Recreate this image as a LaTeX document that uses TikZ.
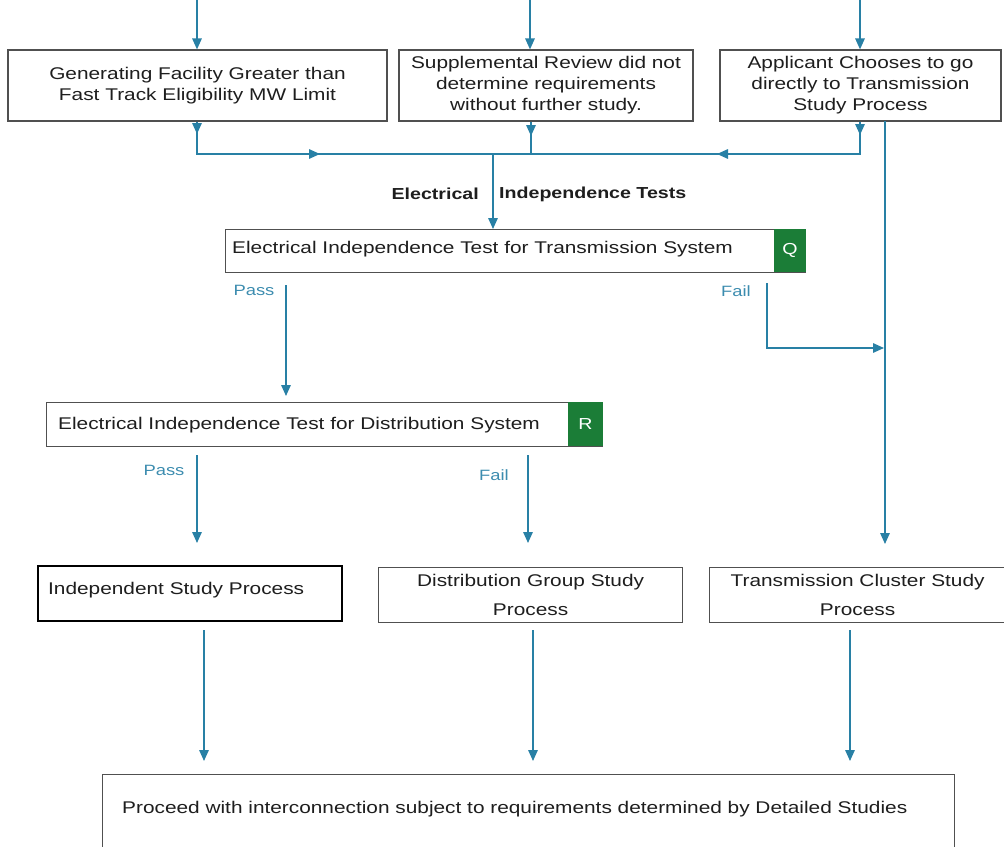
\documentclass[tikz,border=0pt]{standalone}
\usepackage{fontspec}
\setmainfont[FakeStretch=1.23]{Liberation Sans}
\usetikzlibrary{arrows.meta}
\definecolor{flow}{RGB}{40,128,165}
\definecolor{lbl}{RGB}{60,140,175}
\definecolor{qgreen}{RGB}{27,125,55}
\definecolor{edge}{RGB}{80,80,80}
\definecolor{ink}{RGB}{30,30,30}
\begin{document}
\begin{tikzpicture}[x=1bp,y=-1bp,
  box/.style={draw=edge, line width=1.2bp, fill=white, inner sep=0pt, rectangle, text=ink,
    font=\fontsize{17}{21}\selectfont, align=center},
  widebox/.style={box, font=\fontsize{17}{29}\selectfont},
  txt/.style={inner sep=0pt, text=ink, font=\fontsize{17}{21}\selectfont},
  lab/.style={inner sep=0pt, text=lbl, font=\fontsize{15}{18}\selectfont},
  tag/.style={fill=qgreen, text=white, inner sep=0pt, font=\fontsize{16}{18}\selectfont},
  flowline/.style={draw=flow, line width=1.5bp},
  arr/.style={flowline, -{Triangle[length=11bp,width=9.5bp]}},
]
\useasboundingbox (0,0) rectangle (1004,847);
\clip (0,0) rectangle (1004,847);

% top boxes
\node[box, minimum width=379bp, minimum height=71bp] (b1) at (197.5,85.5)
  {Generating Facility Greater than\\Fast Track Eligibility MW Limit};
\node[box, minimum width=294bp, minimum height=71bp] (b2) at (546,85.5)
  {Supplemental Review did not\\determine requirements\\without further study.};
\node[box, minimum width=281bp, minimum height=71bp] (b3) at (860.5,85.5)
  {Applicant Chooses to go\\directly to Transmission\\Study Process};

% incoming arrows
\coordinate (in1) at (197,0);
\coordinate (in2) at (530,0);
\coordinate (in3) at (860,0);
\draw[arr] (in1) -- (in1 |- b1.north);
\draw[arr] (in2) -- (in2 |- b2.north);
\draw[arr] (in3) -- (in3 |- b3.north);

% bus
\coordinate (busL) at (197,154);
\coordinate (busR) at (860,154);
\coordinate (busM) at (493,154);
\coordinate (b2x) at (531,154);
\coordinate (m1) at (320,154);
\coordinate (m2) at (717,154);
\coordinate (t1) at (197,134);
\coordinate (t2) at (531,136);
\coordinate (t3) at (860,135);
\draw[flowline] (busL |- b1.south) -- (busL) -- (busR) -- (busR |- b3.south);
\draw[flowline] (b2x |- b2.south) -- (b2x);
\draw[arr] (busL |- b1.south) -- (t1);
\draw[arr] (b2x |- b2.south) -- (t2);
\draw[arr] (busR |- b3.south) -- (t3);
\draw[arr] (busL) -- (m1);
\draw[arr] (busR) -- (m2);

% tests label
\node[txt, font=\bfseries\fontsize{16}{19}\selectfont, anchor=east] (elab) at (479,194) {Electrical};
\node[txt, font=\bfseries\fontsize{16}{19}\selectfont, anchor=west] (ilab) at (499,194) {Independence Tests};

% Q box
\node[box, minimum width=580bp, minimum height=43bp, anchor=north west] (Q) at (225,229) {};
\node[tag, minimum width=32bp, minimum height=43bp, anchor=north east] (Qg) at (Q.north east) {Q};
\node[txt, anchor=west] (Qt) at (232,249) {Electrical Independence Test for Transmission System};
\draw[arr] (busM) -- (busM |- Q.north);

% right trunk
\coordinate (rt) at (885,121);
\coordinate (rb) at (885,567);
\draw[arr, shorten >=23bp] (rt) -- (rb);

% Q pass / fail
\node[lab] (qpass) at (254,290) {Pass};
\node[lab] (qfail) at (736,291) {Fail};
\coordinate (qp1) at (286,285);
\coordinate (qp2) at (286,402);
\coordinate (qf1) at (767,283);
\coordinate (qf2) at (767,348);
\coordinate (qf3) at (884,348);
\draw[arr, shorten >=6bp] (qp1) -- (qp2);
\draw[arr] (qf1) -- (qf2) -- (qf3);

% R box
\node[box, minimum width=556bp, minimum height=44bp, anchor=north west] (R) at (46,402) {};
\node[tag, minimum width=35bp, minimum height=44bp, anchor=north east] (Rg) at (R.north east) {R};
\node[txt, anchor=west] (Rt) at (58,425) {Electrical Independence Test for Distribution System};

\node[lab] (rpass) at (164,470) {Pass};
\node[lab] (rfail) at (494,475) {Fail};

% bottom boxes
\node[box, draw=black, line width=1.8bp, minimum width=304bp, minimum height=55bp, anchor=north west] (isp) at (37,565) {};
\node[txt, anchor=west] (ispt) at (48,590) {Independent Study Process};
\node[widebox, minimum width=304bp, minimum height=55bp, anchor=north west] (dgs) at (378,567)
  {Distribution Group Study\\Process};
\node[widebox, minimum width=296bp, minimum height=55bp, anchor=north west] (tcs) at (709,567)
  {Transmission Cluster Study\\Process};

\coordinate (rp1) at (197,455);
\coordinate (rf1) at (528,455);
\draw[arr, shorten >=22bp] (rp1) -- (rp1 |- isp.north);
\draw[arr, shorten >=24bp] (rf1) -- (rf1 |- dgs.north);

% final box
\node[box, minimum width=852bp, minimum height=100bp, anchor=north west] (fin) at (102,774) {};
\node[txt, anchor=west] (fint) at (122,809) {Proceed with interconnection subject to requirements determined by Detailed Studies};

\coordinate (d1) at (204,622);
\coordinate (d2) at (533,622);
\coordinate (d3) at (850,622);
\draw[arr, shorten <=8bp, shorten >=13bp] (d1) -- (d1 |- fin.north);
\draw[arr, shorten <=8bp, shorten >=13bp] (d2) -- (d2 |- fin.north);
\draw[arr, shorten <=8bp, shorten >=13bp] (d3) -- (d3 |- fin.north);
\end{tikzpicture}
\end{document}
